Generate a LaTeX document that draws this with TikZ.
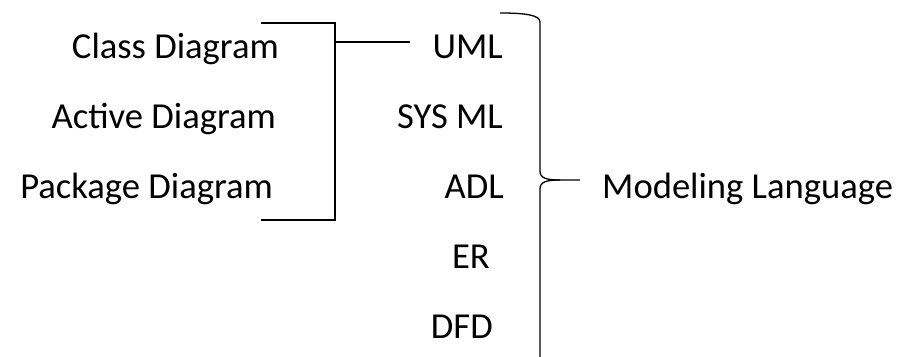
\documentclass[tikz,border=0pt]{standalone}
\usepackage{fontspec}
\setmainfont{Carlito}
\begin{document}
\begin{tikzpicture}[x=1pt,y=-1pt,
  lbl/.style={anchor=base east,inner sep=0pt,font=\fontsize{36.6}{44}\selectfont},
  rlbl/.style={anchor=base west,inner sep=0pt,font=\fontsize{36.6}{44}\selectfont},
  ln/.style={line width=1.3pt,black}]
\useasboundingbox (0,0) rectangle (910,356);
% left column
\node[lbl] (class) at (279,58) {Class Diagram};
\node[lbl] (active) at (276,128) {Active Diagram};
\node[lbl] (package) at (273,198) {Package Diagram};
% middle column
\node[lbl] (uml) at (503,58) {UML};
\node[lbl] (sysml) at (503,128) {SYS ML};
\node[lbl] (adl) at (504,198) {ADL};
\node[lbl] (er) at (490,268) {ER};
\node[lbl] (dfd) at (493,338) {DFD};
% right
\node[rlbl] (model) at (602,198) {Modeling Language};
% bracket
\coordinate (btl) at (261,23);
\coordinate (btr) at (335,23);
\coordinate (bbr) at (335,220);
\coordinate (bbl) at (261,220);
\coordinate (bmid) at (335,42);
\coordinate (umlend) at (410,42);
\draw[ln] (btl) -- (btr) -- (bbr) -- (bbl);
\draw[ln] (bmid) -- (umlend);
% brace
\coordinate (brtop) at (500,13);
\coordinate (brtip) at (560,180);
\coordinate (brend) at (580,180);
\coordinate (brbot) at (540,358);
\draw[ln] (brtop) .. controls (525,13) and (540,15) .. (540,22) -- (540,171)
  .. controls (540,178) and (546,180) .. (brtip) -- (brend);
\draw[ln] (brtip) .. controls (546,180) and (540,182) .. (540,189) -- (brbot);
\end{tikzpicture}
\end{document}
